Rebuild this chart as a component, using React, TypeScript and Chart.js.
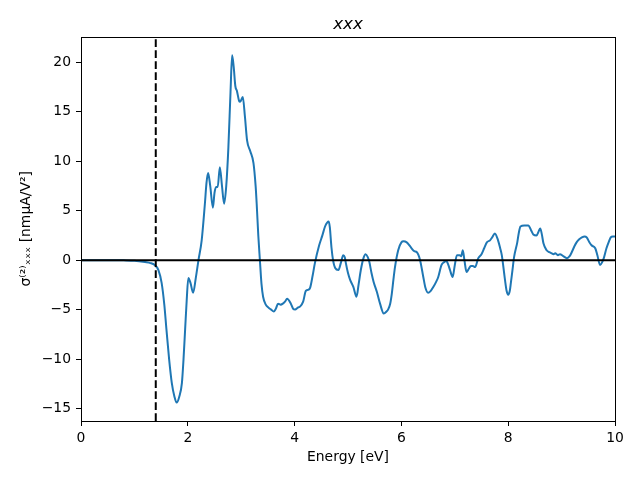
import React, { useEffect, useRef } from "react";
import { Chart, registerables } from "chart.js";

Chart.register(...registerables);

const energy = [
  0, 0.5, 0.8, 1.0, 1.2, 1.3, 1.38, 1.45, 1.51, 1.56, 1.6, 1.65, 1.7, 1.75, 1.79, 1.84, 1.89, 1.92, 1.95, 1.98,
  2.01, 2.05, 2.1, 2.15, 2.2, 2.26, 2.32, 2.35, 2.38, 2.42, 2.47, 2.5, 2.53, 2.56, 2.6, 2.64, 2.68, 2.72, 2.76, 2.8,
  2.83, 2.86, 2.89, 2.92, 2.96, 2.98, 3.03, 3.07, 3.11, 3.17, 3.23, 3.27, 3.29, 3.32, 3.35, 3.38, 3.41, 3.46, 3.51, 3.56,
  3.61, 3.65, 3.69, 3.74, 3.78, 3.82, 3.86, 3.93, 3.97, 4.01, 4.06, 4.1, 4.16, 4.21, 4.25, 4.29, 4.34, 4.38, 4.46, 4.52,
  4.57, 4.61, 4.64, 4.66, 4.69, 4.72, 4.76, 4.82, 4.87, 4.91, 4.94, 4.96, 5.0, 5.04, 5.1, 5.16, 5.2, 5.24, 5.29, 5.33,
  5.37, 5.4, 5.44, 5.48, 5.54, 5.6, 5.67, 5.72, 5.75, 5.79, 5.82, 5.85, 5.88, 5.94, 6.0, 6.04, 6.1, 6.15, 6.19, 6.24,
  6.29, 6.35, 6.41, 6.45, 6.5, 6.55, 6.6, 6.65, 6.69, 6.75, 6.8, 6.84, 6.88, 6.91, 6.96, 7.0, 7.04, 7.09, 7.12, 7.15,
  7.18, 7.22, 7.26, 7.3, 7.34, 7.38, 7.44, 7.5, 7.55, 7.6, 7.66, 7.7, 7.75, 7.81, 7.85, 7.88, 7.91, 7.94, 7.97, 8.0,
  8.03, 8.05, 8.08, 8.11, 8.17, 8.2, 8.23, 8.3, 8.38, 8.43, 8.47, 8.53, 8.57, 8.6, 8.63, 8.66, 8.72, 8.77, 8.81, 8.85,
  8.88, 8.93, 8.97, 9.03, 9.1, 9.15, 9.19, 9.24, 9.28, 9.33, 9.38, 9.43, 9.47, 9.52, 9.56, 9.63, 9.67, 9.72, 9.76, 9.79,
  9.84, 9.88, 9.92, 9.96, 10.0,
];

const sigma = [
  0, 0, -0.02, -0.06, -0.2, -0.3, -0.5, -1.0, -2.3, -4.5, -7, -10, -12.4, -13.8, -14.4, -13.8, -12.4, -10, -7, -4,
  -1.8, -2.3, -3.3, -1.8, 0, 2, 5.7, 7.8, 8.8, 7.5, 5.3, 6.8, 7.4, 7.4, 9.4, 7.5, 5.7, 7.5, 11.4, 17,
  20.7, 19.5, 17.6, 17.1, 16.1, 16.0, 16.5, 14.5, 12.1, 11.0, 9.8, 7.5, 5.7, 2.5, 0, -2.4, -3.7, -4.5, -4.8, -5.0,
  -5.2, -4.9, -4.4, -4.5, -4.4, -4.2, -3.9, -4.4, -4.9, -5.0, -4.8, -4.7, -4.2, -3.1, -3.0, -2.8, -1.5, -0.3, 1.5, 2.5,
  3.4, 3.8, 3.9, 3.3, 1.3, 0, -0.8, -1.0, -0.2, 0.5, 0.3, -0.3, -1.3, -2.0, -2.7, -3.7, -2.4, -1.0, 0.2, 0.6,
  0.3, -0.2, -1.3, -2.2, -3.2, -4.4, -5.4, -5.2, -5.0, -4.4, -3.4, -2.0, -0.7, 1.0, 1.8, 1.9, 1.8, 1.5, 1.2, 0.9,
  0.8, 0, -1.7, -2.8, -3.3, -3.1, -2.7, -2.2, -1.7, -0.5, -0.2, -0.1, -0.5, -1.0, -1.7, -0.5, 0.5, 0.5, 0.4, 1.0,
  0, -1.2, -0.9, -0.6, -0.6, -0.7, 0.2, 0.6, 1.2, 1.8, 2.0, 2.3, 2.7, 2.0, 1.2, 0.5, -0.7, -2.0, -3.1, -3.5,
  -3.1, -2.3, -1.0, 0.3, 1.8, 2.8, 3.4, 3.5, 3.5, 3.0, 2.6, 2.5, 2.9, 3.2, 2.6, 1.7, 1.0, 0.8, 0.7, 0.6,
  0.7, 0.5, 0.6, 0.4, 0.2, 0.4, 0.8, 1.4, 1.8, 2.1, 2.3, 2.4, 2.3, 1.8, 1.5, 1.2, 0.5, -0.5, -0.2, 0.2,
  1.2, 1.8, 2.3, 2.4, 2.4,
];

const bandGap = 1.4;
const xRange = [0, 10];
const yRange = [-16.26, 22.6];
const titleText = "xxx";
const xLabel = "Energy [eV]";
const yLabel = "σ⁽²⁾ₓₓₓ [nmμA/V²]";

const FONT = "'DejaVu Sans', sans-serif";

export default function App() {
  const ref = useRef<HTMLCanvasElement | null>(null);

  useEffect(() => {
    if (!ref.current) return;
    const frame = {
      id: "frame",
      afterDraw(chart: any) {
        const { ctx, chartArea } = chart;
        ctx.save();
        ctx.strokeStyle = "#000";
        ctx.lineWidth = 1;
        ctx.strokeRect(
          Math.round(chartArea.left) + 0.5,
          Math.round(chartArea.top) + 0.5,
          Math.round(chartArea.right - chartArea.left),
          Math.round(chartArea.bottom - chartArea.top)
        );
        ctx.restore();
      },
    };
    const chart = new Chart(ref.current, {
      type: "line",
      data: {
        datasets: [
          {
            data: [
              { x: xRange[0], y: 0 },
              { x: xRange[1], y: 0 },
            ],
            borderColor: "#000",
            borderWidth: 2,
            pointRadius: 0,
            tension: 0,
          },
          {
            data: [
              { x: bandGap, y: yRange[0] },
              { x: bandGap, y: yRange[1] },
            ],
            borderColor: "#000",
            borderWidth: 2,
            borderDash: [7.7, 3.3],
            pointRadius: 0,
            tension: 0,
          },
          {
            data: energy.map((e, i) => ({ x: e, y: sigma[i] })),
            borderColor: "#1f77b4",
            borderWidth: 2,
            pointRadius: 0,
            cubicInterpolationMode: "monotone",
          },
        ],
      },
      options: {
        animation: false,
        responsive: false,
        layout: { padding: { left: 0, right: 25, top: 0, bottom: 0 } },
        plugins: {
          legend: { display: false },
          tooltip: { enabled: false },
          title: {
            display: true,
            text: titleText,
            fullSize: false,
            color: "#000",
            font: { family: FONT, size: 16.7, style: "italic", weight: "normal", lineHeight: 1.2 },
            padding: { top: 15, bottom: 1.5 },
          },
        },
        scales: {
          x: {
            type: "linear",
            min: xRange[0],
            max: xRange[1],
            afterFit: (s: any) => {
              s.height = 59;
            },
            ticks: {
              stepSize: 2,
              color: "#000",
              padding: 4,
              font: { family: FONT, size: 13.9 },
              maxRotation: 0,
              includeBounds: false,
            },
            grid: {
              drawOnChartArea: false,
              drawTicks: true,
              tickLength: 5,
              tickColor: "#000",
              tickWidth: 1,
            },
            border: { display: false },
            title: {
              display: true,
              text: xLabel,
              color: "#000",
              font: { family: FONT, size: 13.9, lineHeight: 1.2 },
              padding: { top: 0, bottom: 14 },
            },
          },
          y: {
            type: "linear",
            min: yRange[0],
            max: yRange[1],
            afterFit: (s: any) => {
              s.width = 81;
            },
            ticks: {
              stepSize: 5,
              color: "#000",
              padding: 5,
              font: { family: FONT, size: 13.9 },
              includeBounds: false,
              callback: (v: any) => (Number(v) < 0 ? "−" + Math.abs(Number(v)) : String(v)),
            },
            grid: {
              drawOnChartArea: false,
              drawTicks: true,
              tickLength: 5,
              tickColor: "#000",
              tickWidth: 1,
            },
            border: { display: false },
            title: {
              display: true,
              text: yLabel,
              color: "#000",
              font: { family: FONT, size: 13.9, lineHeight: 1.2 },
              padding: { top: 18, bottom: 0 },
            },
          },
        },
      },
      plugins: [frame],
    } as any);
    return () => chart.destroy();
  }, []);

  return (
    <div style={{ position: "absolute", left: 0, top: 0, width: 640, height: 480, background: "#fff" }}>
      <canvas ref={ref} width={640} height={480} style={{ width: 640, height: 480 }} />
    </div>
  );
}
